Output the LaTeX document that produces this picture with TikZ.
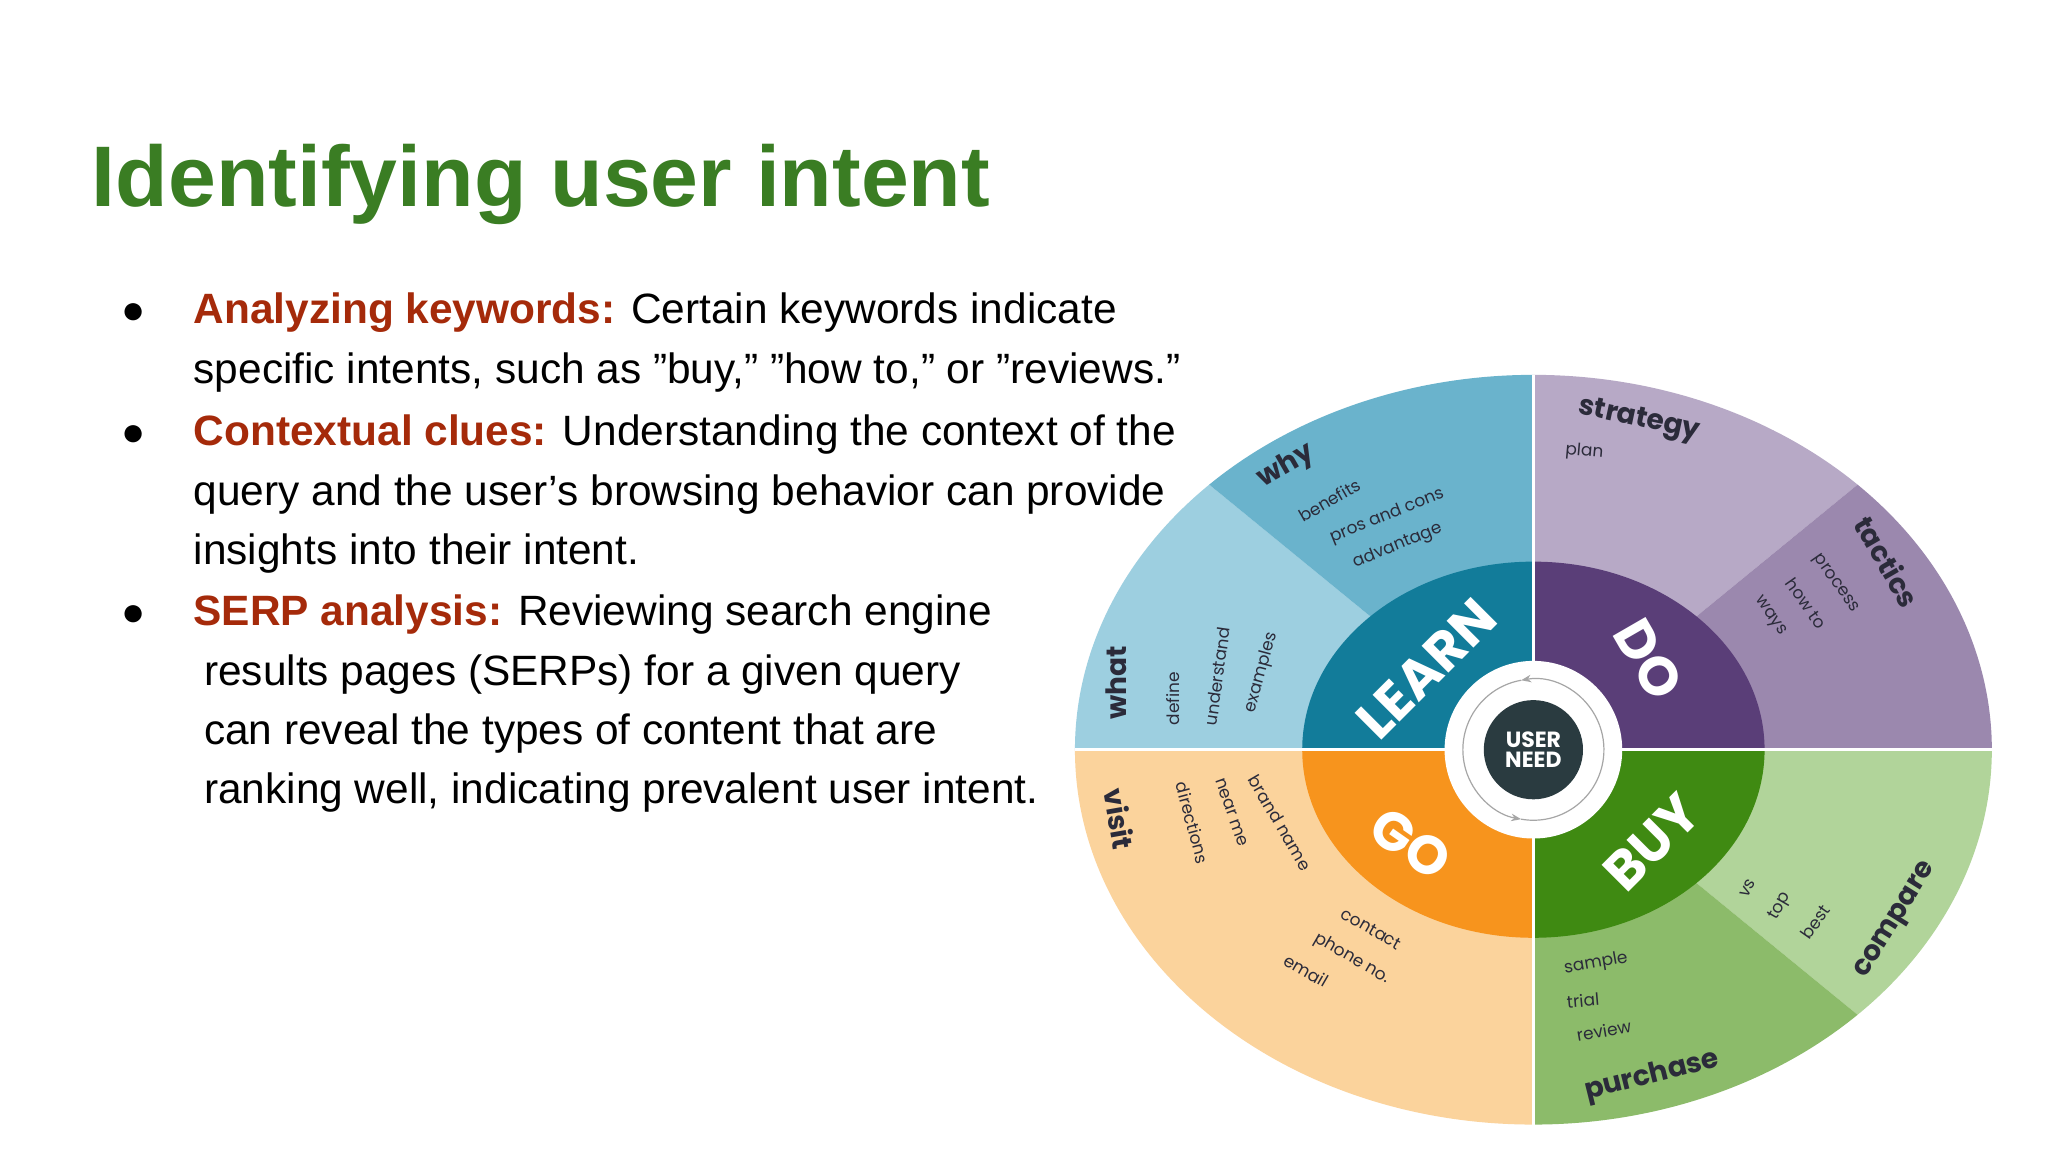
\documentclass[tikz,border=0pt]{standalone}
\usepackage{fontspec}
\setmainfont{Liberation Sans}
\newfontfamily\wheelfont{Poppins}
\usetikzlibrary{arrows.meta}
\definecolor{titlegreen}{HTML}{3A7D23}
\definecolor{kwred}{HTML}{A52A0A}
\definecolor{cwhy}{HTML}{6AB3CC}
\definecolor{cwhat}{HTML}{9DCFE0}
\definecolor{clearn}{HTML}{127C9A}
\definecolor{cstrat}{HTML}{B7A9C6}
\definecolor{ctact}{HTML}{9B88AE}
\definecolor{cdo}{HTML}{5A3E78}
\definecolor{cvisit}{HTML}{FBD39C}
\definecolor{cgo}{HTML}{F7941D}
\definecolor{cbuy}{HTML}{3F8A12}
\definecolor{ccomp}{HTML}{B1D49A}
\definecolor{cpurch}{HTML}{8CBB6A}
\definecolor{cdark}{HTML}{2A3B40}
\definecolor{wtext}{HTML}{2B2B3A}
\newcommand{\dq}{\symbol{34}}
\newcommand{\sq}{\symbol{39}}
\tikzset{
 body/.style={anchor=base west,inner sep=0pt,font=\fontsize{21.2}{24}\selectfont},
 bul/.style={anchor=base,inner sep=0pt,font=\fontsize{20}{24}\selectfont},
 big/.style={font=\wheelfont\bfseries\fontsize{14}{15}\selectfont,text=wtext,inner sep=0pt},
 small/.style={font=\wheelfont\fontsize{8.5}{9}\selectfont,text=wtext,inner sep=0pt},
 core/.style={font=\wheelfont\bfseries\fontsize{27}{28}\selectfont,text=white,inner sep=0pt},
}
\newcommand{\wsector}[5]{\fill[#5] (1174,574) -- ++(#1:#3 and #4) arc[start angle=#1,end angle=#2,x radius=#3,y radius=#4] -- cycle;}
\begin{document}
\begin{tikzpicture}[x=0.653pt,y=-0.653pt]
\useasboundingbox[fill=white] (0,0) rectangle (1568,882);
\node[anchor=base west,inner sep=0pt,text=titlegreen,font=\bfseries\fontsize{43}{48}\selectfont] (title) at (70,158) {Identifying user intent};
% bullets
\foreach \y/\n in {248/b1,341/b2,479/b3} \node[bul] (\n) at (102,\y) {●};
\node[body] (l1) at (148,248) {\textcolor{kwred}{\bfseries Analyzing keywords:} Certain keywords indicate};
\node[body] (l2) at (148,294) {specific intents, such as \dq buy,\dq{} \dq how to,\dq{} or \dq reviews.\dq};
\node[body] (l3) at (148,341) {\textcolor{kwred}{\bfseries Contextual clues:} Understanding the context of the};
\node[body] (l4) at (148,387) {query and the user\sq s browsing behavior can provide};
\node[body] (l5) at (148,432) {insights into their intent.};
\node[body] (l6) at (148,479) {\textcolor{kwred}{\bfseries SERP analysis:} Reviewing search engine};
\node[body] (l7) at (156,525) {results pages (SERPs) for a given query};
\node[body] (l8) at (156,570) {can reveal the types of content that are};
\node[body] (l9) at (156,615) {ranking well, indicating prevalent user intent.};
% wheel
\coordinate (C) at (1174,574);
\wsector{-90}{-45}{351}{287}{cstrat}
\wsector{-45}{0}{351}{287}{ctact}
\wsector{0}{45}{351}{287}{ccomp}
\wsector{45}{90}{351}{287}{cpurch}
\wsector{90}{180}{351}{287}{cvisit}
\wsector{180}{225}{351}{287}{cwhat}
\wsector{225}{270}{351}{287}{cwhy}
\wsector{-90}{0}{177}{144}{cdo}
\wsector{0}{90}{177}{144}{cbuy}
\wsector{90}{180}{177}{144}{cgo}
\wsector{180}{270}{177}{144}{clearn}
\draw[white,line width=1.5pt] (1174,287) -- (1174,861);
\draw[white,line width=1.5pt] (823,574) -- (1525,574);
\fill[white] (C) circle[radius=68];
\draw[gray!70,line width=0.6pt,-{Stealth[length=5pt]}] (C) ++(160:54) arc[start angle=160,end angle=100,radius=54];
\draw[gray!70,line width=0.6pt,-{Stealth[length=5pt]}] (C) ++(-20:54) arc[start angle=-20,end angle=-100,radius=54];
\draw[gray!70,line width=0.6pt] (C) ++(100:54) arc[start angle=100,end angle=-20,radius=54];
\draw[gray!70,line width=0.6pt] (C) ++(-100:54) arc[start angle=-100,end angle=-200,radius=54];
\node[circle,fill=cdark,minimum size=49.6pt,inner sep=0pt,align=center,text=white,font=\wheelfont\bfseries\fontsize{11}{10}\selectfont] (user) at (C) {USER\\NEED};
% core labels
\node[core,rotate=45] (learn) at (1092,512) {LEARN};
\node[core,rotate=-60] (do) at (1262,505) {DO};
\node[core,rotate=-35] (go) at (1080,646) {GO};
\node[core,rotate=45] (buy) at (1265,645) {BUY};
% outer labels
\node[big,rotate=-12] (strategy) at (1255,322) {strategy};
\node[small,rotate=-5] (plan) at (1213,346) {plan};
\node[big,rotate=-60] (tactics) at (1445,430) {tactics};
\node[small,rotate=-55] (process) at (1405,447) {process};
\node[small,rotate=-55] (howto) at (1383,462) {how to};
\node[small,rotate=-55] (ways) at (1355,472) {ways};
\node[big,rotate=30] (why) at (985,357) {why};
\node[small,rotate=30] (benefits) at (1018,383) {benefits};
\node[small,rotate=22] (pros) at (1062,395) {pros and cons};
\node[small,rotate=22] (adv) at (1070,418) {advantage};
\node[big,rotate=90] (what) at (855,523) {what};
\node[small,rotate=90] (define) at (898,535) {define};
\node[small,rotate=82] (und) at (932,518) {understand};
\node[small,rotate=75] (ex) at (966,515) {examples};
\node[big,rotate=-80] (visit) at (857,627) {visit};
\node[small,rotate=-75] (dir) at (913,630) {directions};
\node[small,rotate=-70] (near) at (943,622) {near me};
\node[small,rotate=-60] (brand) at (980,630) {brand name};
\node[small,rotate=-30] (contact) at (1050,711) {contact};
\node[small,rotate=-30] (phone) at (1035,734) {phone no.};
\node[small,rotate=-30] (email) at (1000,743) {email};
\node[small,rotate=60] (vs) at (1338,680) {vs};
\node[small,rotate=60] (top) at (1363,694) {top};
\node[small,rotate=55] (best) at (1390,706) {best};
\node[big,rotate=58] (compare) at (1452,705) {compare};
\node[small,rotate=10] (sample) at (1222,738) {sample};
\node[small,rotate=5] (trial) at (1212,766) {trial};
\node[small,rotate=10] (review) at (1228,789) {review};
\node[big,rotate=14] (purchase) at (1265,824) {purchase};
\end{tikzpicture}
\end{document}
